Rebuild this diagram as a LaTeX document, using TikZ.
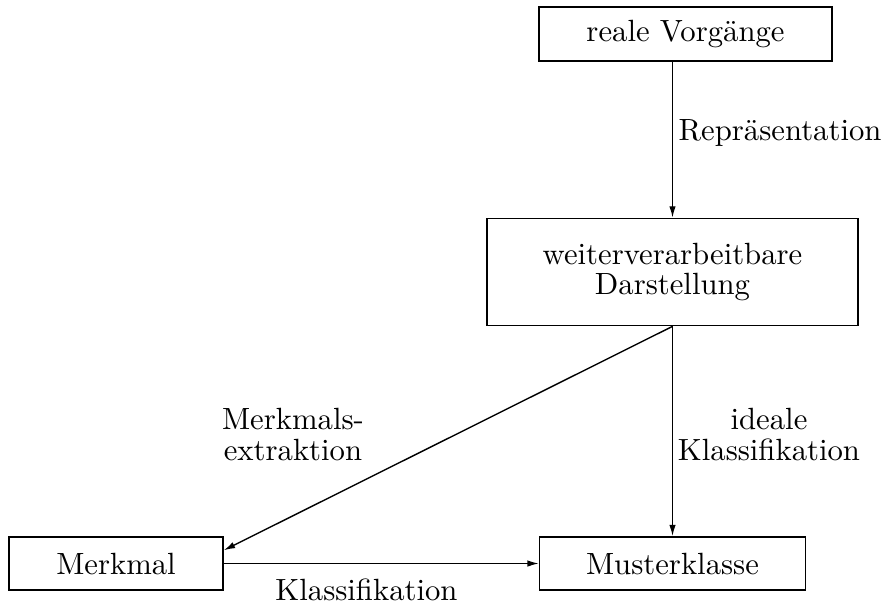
\documentclass[tikz,border=0pt]{standalone}
\usetikzlibrary{arrows.meta}
\begin{document}
\begin{tikzpicture}[x=0.3257pt,y=-0.3257pt,
  box/.style={draw,line width=0.5pt,inner sep=0pt,align=center,font=\fontsize{10}{9.8}\selectfont},
  lbl/.style={inner sep=0pt,align=center,font=\fontsize{10}{9.8}\selectfont},
  arr/.style={-{Latex[length=3.7pt,width=2.1pt]},line width=0.45pt}]
\useasboundingbox (0,0) rectangle (884,604);
\node[box,minimum width=95.4pt,minimum height=17.6pt] (reale) at (685.5,34) {reale Vorgänge};
\node[box,minimum width=120.8pt,minimum height=34.9pt] (darst) at (672.5,272) {weiterverarbeitbare\\Darstellung};
\node[box,minimum width=69.7pt,minimum height=17.3pt] (merkmal) at (116,563.5) {Merkmal};
\node[box,minimum width=86.6pt,minimum height=17.3pt] (muster) at (672.5,563.5) {Musterklasse};
\draw[arr] (reale.south -| darst.north) -- (darst.north);
\draw[arr] (darst.south) -- (muster.north);
\draw[arr] (darst.south) -- (merkmal.7.7);
\draw[arr] (merkmal.east) -- (muster.west);
\node[lbl,anchor=base west] (repr) at (678,140) {Repräsentation};
\node[lbl] (mext) at (293,434.5) {Merkmals-\\extraktion};
\node[lbl] (ideal) at (769,434.5) {ideale\\Klassifikation};
\node[lbl,anchor=base] (klass) at (366.5,600) {Klassifikation};
\end{tikzpicture}
\end{document}
